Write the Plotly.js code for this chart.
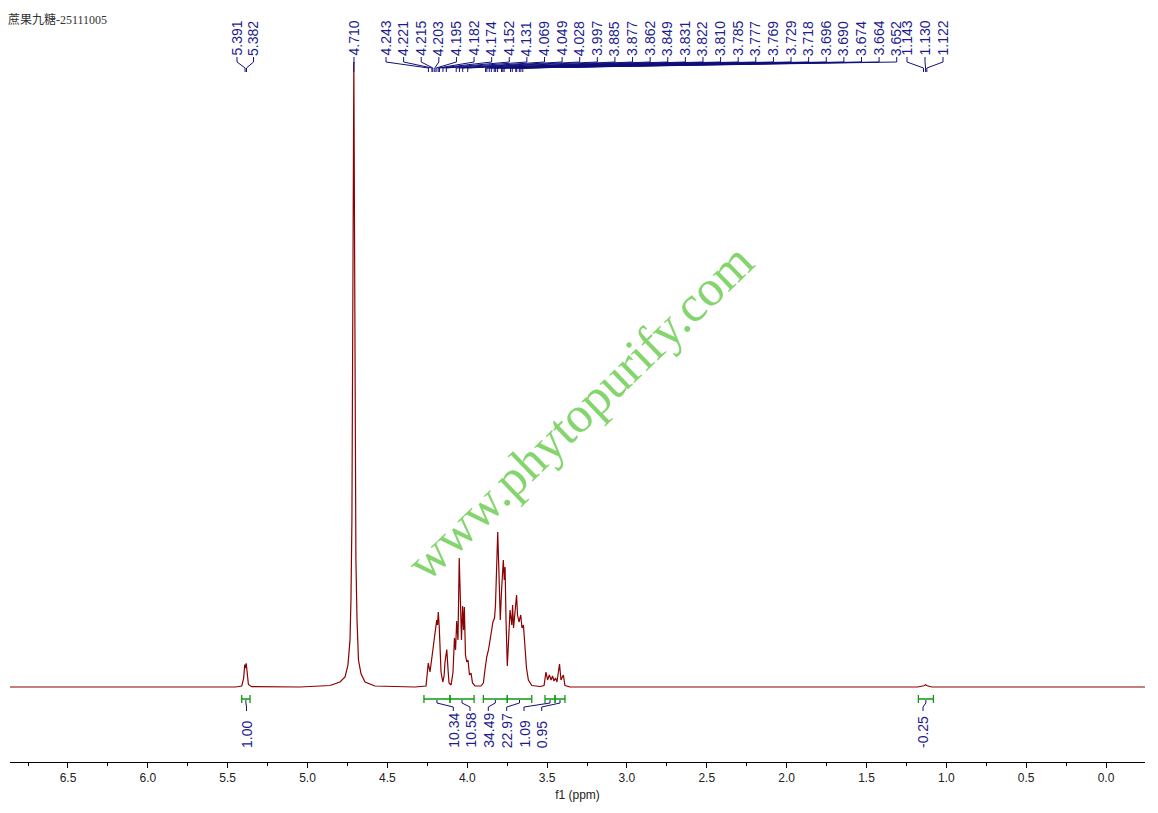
<!DOCTYPE html>
<html><head><meta charset="utf-8">
<script src="https://cdn.plot.ly/plotly-3.0.1.min.js"></script>
<style>html,body{margin:0;padding:0;background:#fff}#chart{width:1158px;height:813px}</style>
</head><body><div id="chart"></div>
<script>
// ---------------- DATA ----------------
const sampleTitle = "蔗果九糖-25111005";
const watermarkText = "www.phytopurify.com";
const axisTitle = "f1 (ppm)";

// spectrum trace (ppm, relative intensity; 4.710 peak = 100)
const specPpm = [6.863,5.450,5.412,5.400,5.393,5.389,5.384,5.378,5.370,5.350,
  5.047,4.859,4.797,4.765,4.747,4.734,4.728,4.722,4.716,4.710,4.704,4.697,4.690,4.681,4.665,4.640,4.578,4.421,
  4.327,4.258,4.244,4.233,4.216,4.208,4.199,4.191,4.186,4.181,4.175,4.170,4.164,4.153,4.145,4.139,4.128,4.120,4.114,4.101,
  4.089,4.080,4.073,4.066,4.058,4.050,4.042,4.036,4.029,4.023,4.018,4.011,4.003,3.995,3.986,3.976,3.967,3.951,
  3.914,3.899,3.889,3.878,3.867,3.857,3.847,3.839,3.829,3.823,3.817,3.809,3.801,3.793,3.785,3.774,3.768,3.763,3.757,
  3.749,3.741,3.732,3.721,3.716,3.710,3.701,3.691,3.685,3.676,3.665,3.657,3.648,3.638,3.629,3.617,3.596,
  3.544,3.519,3.507,3.497,3.486,3.475,3.466,3.457,3.447,3.438,3.422,3.413,3.398,3.388,3.356,
  1.180,1.140,1.130,1.120,1.090,-0.244];
const specInt = [0,0,0.15,1.4,3.6,3.0,3.8,1.8,0.4,0.05,
  0,0.24,0.8,1.6,3.5,7.5,13.9,26.7,61.9,100,61.9,20.3,10.7,4.3,2.1,0.8,0.16,0,
  0,0.16,3.84,2.4,5.6,7.52,9.44,10.72,9.92,12.0,9.44,6.72,2.4,0.8,1.76,4.0,6.0,2.72,0.64,0.32,
  2.4,7.84,5.92,10.56,7.52,20.64,13.92,7.52,12.96,9.12,12.8,5.12,4.0,4.32,1.92,2.24,0.64,0.16,
  0.16,0.64,2.72,4.8,5.92,8.0,9.12,10.4,11.04,13.12,17.12,24.8,17.92,10.72,15.52,20.32,17.12,19.2,10.72,
  3.36,7.52,12.32,9.92,13.12,9.44,12.32,14.72,11.52,10.4,11.52,9.44,9.92,5.92,3.04,1.12,0.24,
  0.08,0.24,2.4,1.12,1.92,1.12,1.76,0.96,1.44,0.8,3.68,1.12,1.92,0.24,0,
  0,0.2,0.35,0.2,0,0];

// peak-pick labels (ppm), by group
const peaksA = [5.391, 5.382];
const peaksB = [4.710];
const peaksC = [4.243,4.221,4.215,4.203,4.195,4.182,4.174,4.152,4.131,4.069,4.049,4.028,3.997,
  3.885,3.877,3.862,3.849,3.831,3.822,3.810,3.785,3.777,3.769,3.729,3.718,3.696,3.690,3.674,3.664,3.652];
const peaksD = [1.143, 1.130, 1.122];

// integrations (ppm from, ppm to, value)
const intFrom  = [5.412, 4.271, 4.108, 3.899, 3.749, 3.513, 3.450, 1.175];
const intTo    = [5.360, 4.108, 3.957, 3.749, 3.596, 3.450, 3.388, 1.081];
const intValue = [1.00, 10.34, 10.58, 34.49, 22.97, 1.09, 0.95, -0.25];

// ---------------- LAYOUT HELPERS ----------------
const X0 = 6.863, X1 = -0.244, PL = 10, PW = 1135, PH = 762;
const px2ppm = px => X0 + (px - PL) / PW * (X1 - X0);
const pyP = y => 1 - y / PH;   // pixel row -> paper y

const labelGroups = [
  {vals: peaksA, start: 237, step: 16.5},
  {vals: peaksB, start: 354, step: 0},
  {vals: peaksC, start: 386, step: 17.61},
  {vals: peaksD, start: 907, step: 18}
];
const intLabelPx = [246.5, 453.3, 470, 488.3, 506.7, 524, 541.7, 923];

const BLUE = '#1c1c8e', NAVY = '#10107a', GREEN = '#119911';
const shapes = [], annotations = [];

labelGroups.forEach(g => {
  g.vals.forEach((v, i) => {
    const lx = px2ppm(g.start + i * g.step);
    annotations.push({x: lx, xref: 'x', y: pyP(57), yref: 'paper', text: v.toFixed(3),
      textangle: -90, xanchor: 'center', yanchor: 'bottom', showarrow: false, borderpad: 0,
      font: {family: 'Liberation Sans, Arial, sans-serif', size: 14, color: BLUE}});
    shapes.push({type: 'path', xref: 'x', yref: 'paper',
      path: `M ${lx},${pyP(57)} L ${lx},${pyP(62)} L ${v},${pyP(68)} L ${v},${pyP(72)}`,
      line: {color: NAVY, width: 1}});
  });
});

intValue.forEach((val, i) => {
  const a = intFrom[i], b = intTo[i], c = (a + b) / 2, lx = px2ppm(intLabelPx[i]);
  shapes.push({type: 'path', xref: 'x', yref: 'paper',
    path: `M ${a},${pyP(695)} L ${a},${pyP(703)} M ${a},${pyP(699)} L ${b},${pyP(699)} M ${b},${pyP(695)} L ${b},${pyP(703)}`,
    line: {color: GREEN, width: 1.3}});
  shapes.push({type: 'path', xref: 'x', yref: 'paper',
    path: `M ${c},${pyP(700)} L ${c},${pyP(703)} L ${lx},${pyP(707)} L ${lx},${pyP(711)}`,
    line: {color: NAVY, width: 1}});
  annotations.push({x: lx, xref: 'x', y: pyP(749), yref: 'paper', text: val.toFixed(2),
    textangle: -90, xanchor: 'center', yanchor: 'bottom', showarrow: false, borderpad: 0,
    font: {family: 'Liberation Sans, Arial, sans-serif', size: 14, color: BLUE}});
});

annotations.push({x: px2ppm(580), xref: 'x', y: pyP(412), yref: 'paper', text: watermarkText,
  textangle: -44, xanchor: 'center', yanchor: 'middle', showarrow: false,
  font: {family: 'Liberation Serif, Times New Roman, serif', size: 51, color: 'rgba(120,208,95,0.9)'}});

const trace = {x: specPpm, y: specInt, type: 'scatter', mode: 'lines',
  line: {color: '#8b0000', width: 1.2}, hoverinfo: 'skip'};

const layout = {
  width: 1158, height: 813,
  margin: {l: PL, r: 1158 - PL - PW, t: 0, b: 813 - PH},
  paper_bgcolor: '#fff', plot_bgcolor: '#fff',
  showlegend: false,
  title: {text: sampleTitle, x: 8 / 1158, xref: 'container', xanchor: 'left',
    y: 1 - 20 / 813, yref: 'container', yanchor: 'middle',
    font: {family: 'Liberation Serif, Noto Sans CJK SC, serif', size: 12, color: '#333'}},
  xaxis: {range: [X0, X1], autorange: false, showgrid: false, zeroline: false,
    showline: true, linecolor: '#000', linewidth: 1,
    ticks: 'outside', ticklen: 5, tickwidth: 1, tickcolor: '#000',
    tick0: 0, dtick: 0.5, tickformat: '.1f',
    tickfont: {family: 'Liberation Sans, Arial, sans-serif', size: 12, color: '#222'},
    minor: {ticks: 'outside', ticklen: 3, tick0: 0, dtick: 0.25, tickcolor: '#000', tickwidth: 1},
    title: {text: axisTitle, standoff: 6, font: {family: 'Liberation Sans, Arial, sans-serif', size: 12, color: '#222'}}},
  yaxis: {visible: false, range: [-12.0, 109.92], autorange: false},
  shapes: shapes, annotations: annotations
};

Plotly.newPlot('chart', [trace], layout, {displayModeBar: false, staticPlot: true});
</script>
</body></html>
